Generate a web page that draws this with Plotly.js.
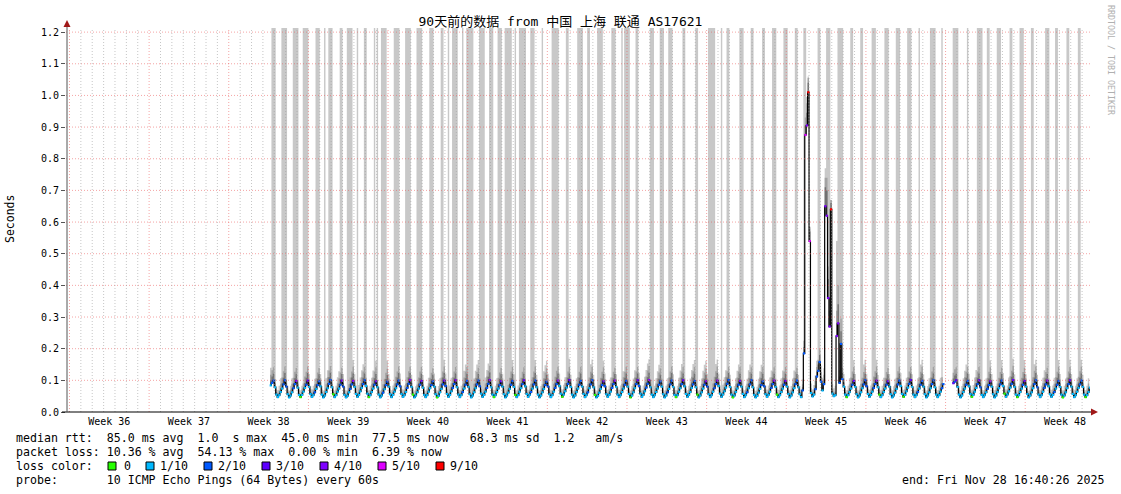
<!DOCTYPE html>
<html><head><meta charset="utf-8">
<script src="https://cdn.plot.ly/plotly-3.0.1.min.js"></script>
<style>html,body{margin:0;padding:0;background:#fff}#chart{width:1121px;height:494px}</style>
</head><body><div id="chart"></div>
<script>
// ---------- time frame ----------
const rangeStart = Date.UTC(2025, 7, 30, 16, 40, 26);
const rangeEnd   = Date.UTC(2025, 10, 28, 16, 40, 26);
const seriesStart = Date.UTC(2025, 8, 17, 0, 0, 0);   // first row = Sep 17 00:00, 8 samples per day
const stepHours = 3;

const chartTitle = '90天前的数据 from 中国 上海 联通 AS17621';
const weekLabels = ['Week 36','Week 37','Week 38','Week 39','Week 40','Week 41','Week 42','Week 43','Week 44','Week 45','Week 46','Week 47','Week 48'];
const yTickValues = [0,0.1,0.2,0.3,0.4,0.5,0.6,0.7,0.8,0.9,1.0,1.1,1.2];

// ---------- median rtt (ms), one row per day: 00,03,06,09,12,15,18,21h ----------
const medianMs = [
null,null,null,null,null,84,92,99,
78,55,47,53,63,74,87,100,
80,56,46,52,62,75,88,98,
77,54,47,54,64,76,86,99,
79,57,48,53,62,73,85,97,
81,55,46,52,63,75,89,101,
78,56,47,53,64,74,86,99,
80,54,46,51,62,73,87,98,
79,57,48,54,65,76,88,100,
82,58,47,53,63,74,86,97,
78,55,46,52,61,72,85,96,
80,56,47,54,64,75,87,99,
81,57,48,53,63,76,89,101,
79,55,46,52,62,74,86,98,
77,54,47,53,64,75,85,97,
80,56,46,51,62,73,87,99,
82,57,48,54,65,76,88,100,
78,55,47,53,63,74,86,98,
79,56,46,52,62,75,87,99,
81,58,48,54,64,76,89,101,
78,55,47,53,63,74,85,97,
80,56,46,52,61,73,86,98,
79,54,47,53,64,75,88,100,
81,57,48,54,63,74,87,99,
78,55,46,52,62,73,85,96,
80,56,47,53,64,76,88,99,
82,58,48,55,65,77,89,101,
79,55,46,52,63,74,86,98,
80,57,47,53,62,75,87,100,
78,54,46,51,61,73,85,97,
81,56,48,54,64,76,88,99,
79,55,47,53,63,74,86,98,
80,57,46,52,62,75,88,100,
82,58,48,54,65,77,89,101,
78,55,47,53,63,74,86,97,
80,56,46,52,62,73,87,99,
79,54,47,53,64,75,88,100,
81,57,48,54,63,76,87,98,
78,55,46,52,62,74,86,97,
80,56,47,53,64,75,88,99,
82,58,48,55,65,77,89,101,
79,55,46,52,63,74,86,98,
80,57,47,53,62,75,87,100,
78,54,46,51,61,73,85,97,
81,56,48,54,64,76,88,99,
79,55,47,53,63,74,86,98,
80,57,46,52,62,75,88,99,
78,56,47,68,185,875,905,1010,
540,60,49,55,72,112,130,158,
96,68,88,650,620,360,270,640,
58,50,53,240,280,92,215,104,
80,55,47,53,63,74,86,98,
79,56,46,52,62,75,87,100,
81,57,48,54,64,76,88,99,
78,55,47,53,63,74,86,97,
80,56,46,52,61,73,87,99,
82,57,48,54,65,77,89,101,
79,55,47,53,63,74,86,98,
80,56,46,52,62,75,88,100,
78,55,47,53,64,75,88,null,
null,null,null,null,null,91,96,100,
79,55,46,52,63,74,86,98,
81,57,48,54,64,76,88,100,
78,54,47,53,62,73,85,97,
80,56,46,52,63,75,87,99,
82,58,48,55,65,77,89,101,
79,55,47,53,63,74,86,98,
80,57,46,52,62,75,88,100,
78,55,47,53,64,76,87,99,
81,56,48,54,63,74,86,98,
79,55,46,52,62,75,88,100,
80,57,47,53,64,76,87,99,
79,55,47,53,63,77,null,null
];

// ---------- lost pings out of 10 ----------
const lossCount = [
null,null,null,null,null,1,2,2,
1,1,1,1,1,1,2,2,
2,1,1,1,1,2,2,4,
1,1,0,1,1,1,2,3,
1,1,1,1,2,1,2,2,
1,1,1,1,1,1,2,2,
1,0,1,1,1,1,2,3,
2,1,1,1,1,2,2,4,
1,1,1,1,1,1,2,2,
1,1,0,1,1,1,2,3,
1,1,1,1,2,1,2,2,
1,1,1,1,1,1,2,2,
2,1,1,1,1,2,2,4,
1,0,1,1,1,1,2,3,
1,1,1,1,1,1,2,2,
1,1,0,1,1,1,2,3,
2,1,1,1,1,2,2,4,
1,1,1,1,2,1,2,2,
1,1,1,1,1,1,2,2,
2,1,1,1,1,2,2,4,
1,1,0,1,1,1,2,3,
1,1,1,1,1,1,2,2,
1,0,1,1,1,1,2,3,
1,1,1,1,2,1,2,2,
1,1,1,1,1,1,2,2,
2,1,1,1,1,2,2,4,
1,1,0,1,1,1,2,3,
1,1,1,1,1,1,2,2,
1,1,1,1,2,1,2,2,
1,0,1,1,1,1,2,3,
2,1,1,1,1,2,2,4,
1,1,1,1,1,1,2,2,
1,1,0,1,1,1,2,3,
2,1,1,1,1,2,2,4,
1,1,1,1,1,1,2,2,
1,1,1,1,2,1,2,2,
1,1,0,1,1,1,2,3,
1,1,1,1,1,1,2,2,
1,0,1,1,1,1,2,3,
2,1,1,1,1,2,2,4,
1,1,1,1,1,1,2,2,
1,1,0,1,1,1,2,3,
1,1,1,1,2,1,2,2,
1,1,1,1,1,1,2,2,
2,1,1,1,1,2,2,4,
1,0,1,1,1,1,2,3,
1,1,1,1,1,1,2,2,
1,1,1,2,2,5,4,9,
5,1,1,1,2,2,2,2,
2,1,2,4,4,4,4,9,
1,1,1,4,4,2,2,2,
1,1,0,1,1,1,2,3,
1,1,1,1,1,1,2,2,
2,1,1,1,1,2,2,4,
1,0,1,1,1,1,2,3,
1,1,1,1,1,1,2,2,
1,1,0,1,1,1,2,3,
1,1,1,1,2,1,2,2,
1,1,1,1,1,1,2,2,
1,1,1,1,1,2,2,null,
null,null,null,null,null,3,2,3,
1,1,1,1,1,1,2,2,
1,1,0,1,1,1,2,3,
2,1,1,1,1,2,2,4,
1,1,1,1,1,1,2,2,
1,0,1,1,1,1,2,3,
1,1,0,1,1,1,2,3,
1,1,1,1,1,1,2,2,
2,1,1,1,1,2,2,4,
1,1,1,1,2,1,2,2,
1,1,0,1,1,1,2,3,
1,1,1,1,1,1,2,2,
1,1,0,1,1,1,null,null
];

// ---------- smoke: ping spread above the median (ms) ----------
const spreadP70 = [
null,null,null,null,null,16,20,22,
13,8,5,7,11,17,21,23,
11,7,6,8,13,15,19,21,
12,6,5,9,12,16,22,24,
12,7,5,8,12,16,20,22,
13,8,5,7,11,17,21,23,
11,7,6,8,13,15,19,21,
12,6,5,9,12,16,22,24,
12,7,5,8,12,16,20,22,
13,8,5,7,11,17,21,23,
11,7,6,8,13,15,19,21,
12,6,5,9,12,16,22,24,
12,7,5,8,12,16,20,22,
13,8,5,7,11,17,21,23,
11,7,6,8,13,15,19,21,
12,6,5,9,12,16,22,24,
12,7,5,8,12,16,20,22,
13,8,5,7,11,17,21,23,
11,7,6,8,13,15,19,21,
12,6,5,9,12,16,22,24,
12,7,5,8,12,16,20,22,
13,8,5,7,11,17,21,23,
11,7,6,8,13,15,19,21,
12,6,5,9,12,16,22,24,
12,7,5,8,12,16,20,22,
13,8,5,7,11,17,21,23,
11,7,6,8,13,15,19,21,
12,6,5,9,12,16,22,24,
12,7,5,8,12,16,20,22,
13,8,5,7,11,17,21,23,
11,7,6,8,13,15,19,21,
12,6,5,9,12,16,22,24,
12,7,5,8,12,16,20,22,
13,8,5,7,11,17,21,23,
11,7,6,8,13,15,19,21,
12,6,5,9,12,16,22,24,
12,7,5,8,12,16,20,22,
13,8,5,7,11,17,21,23,
11,7,6,8,13,15,19,21,
12,6,5,9,12,16,22,24,
12,7,5,8,12,16,20,22,
13,8,5,7,11,17,21,23,
11,7,6,8,13,15,19,21,
12,6,5,9,12,16,22,24,
12,7,5,8,12,16,20,22,
13,8,5,7,11,17,21,23,
11,7,6,8,13,15,19,21,
12,7,5,10,20,30,40,30,
30,7,5,8,12,16,20,22,
15,10,15,60,80,60,50,20,
8,6,6,40,60,20,40,20,
13,8,5,7,11,17,21,23,
11,7,6,8,13,15,19,21,
12,6,5,9,12,16,22,24,
12,7,5,8,12,16,20,22,
13,8,5,7,11,17,21,23,
11,7,6,8,13,15,19,21,
12,6,5,9,12,16,22,24,
12,7,5,8,12,16,20,22,
13,8,5,7,11,17,21,null,
null,null,null,null,null,15,19,21,
12,6,5,9,12,16,22,24,
12,7,5,8,12,16,20,22,
13,8,5,7,11,17,21,23,
11,7,6,8,13,15,19,21,
12,6,5,9,12,16,22,24,
12,7,5,8,12,16,20,22,
13,8,5,7,11,17,21,23,
11,7,6,8,13,15,19,21,
12,6,5,9,12,16,22,24,
12,7,5,8,12,16,20,22,
13,8,5,7,11,17,21,23,
11,7,6,8,13,15,null,null
];

const spreadP90 = [
null,null,null,null,null,34,40,42,
26,16,12,16,25,35,42,44,
23,14,11,18,27,33,39,41,
25,15,10,17,26,36,41,45,
24,15,11,17,26,34,40,42,
26,16,12,16,25,35,42,44,
23,14,11,18,27,33,39,41,
25,15,10,17,26,36,41,45,
24,15,11,17,26,34,40,42,
26,16,12,16,25,35,42,44,
23,14,11,18,27,33,39,41,
25,15,10,17,26,36,41,45,
24,15,11,17,26,34,40,42,
26,16,12,16,25,35,42,44,
23,14,11,18,27,33,39,41,
25,15,10,17,26,36,41,45,
24,15,11,17,26,34,40,42,
26,16,12,16,25,35,42,44,
23,14,11,18,27,33,39,41,
25,15,10,17,26,36,41,45,
24,15,11,17,26,34,40,42,
26,16,12,16,25,35,42,44,
23,14,11,18,27,33,39,41,
25,15,10,17,26,36,41,45,
24,15,11,17,26,34,40,42,
26,16,12,16,25,35,42,44,
23,14,11,18,27,33,39,41,
25,15,10,17,26,36,41,45,
24,15,11,17,26,34,40,42,
26,16,12,16,25,35,42,44,
23,14,11,18,27,33,39,41,
25,15,10,17,26,36,41,45,
24,15,11,17,26,34,40,42,
26,16,12,16,25,35,42,44,
23,14,11,18,27,33,39,41,
25,15,10,17,26,36,41,45,
24,15,11,17,26,34,40,42,
26,16,12,16,25,35,42,44,
23,14,11,18,27,33,39,41,
25,15,10,17,26,36,41,45,
24,15,11,17,26,34,40,42,
26,16,12,16,25,35,42,44,
23,14,11,18,27,33,39,41,
25,15,10,17,26,36,41,45,
24,15,11,17,26,34,40,42,
26,16,12,16,25,35,42,44,
23,14,11,18,27,33,39,41,
24,15,11,20,40,55,70,45,
45,15,11,17,26,30,35,40,
30,20,30,90,120,100,90,30,
15,12,12,80,120,40,80,35,
26,16,12,16,25,35,42,44,
23,14,11,18,27,33,39,41,
25,15,10,17,26,36,41,45,
24,15,11,17,26,34,40,42,
26,16,12,16,25,35,42,44,
23,14,11,18,27,33,39,41,
25,15,10,17,26,36,41,45,
24,15,11,17,26,34,40,42,
26,16,12,16,25,35,42,null,
null,null,null,null,null,33,39,41,
25,15,10,17,26,36,41,45,
24,15,11,17,26,34,40,42,
26,16,12,16,25,35,42,44,
23,14,11,18,27,33,39,41,
25,15,10,17,26,36,41,45,
24,15,11,17,26,34,40,42,
26,16,12,16,25,35,42,44,
23,14,11,18,27,33,39,41,
25,15,10,17,26,36,41,45,
24,15,11,17,26,34,40,42,
26,16,12,16,25,35,42,44,
23,14,11,18,27,33,null,null
];

// slowest ping above the median (ms); 1300 = off the top of the graph
const spreadMax = [
null,null,null,null,null,56,1300,1300,
1300,26,22,30,44,1300,1300,1300,
1300,27,21,31,45,1300,1300,1300,
1300,25,22,29,1300,1300,1300,1300,
41,26,23,30,43,1300,1300,1300,
39,27,22,1300,44,57,1300,1300,
1300,26,21,30,46,55,1300,1300,
40,25,22,1300,1300,1300,1300,66,
42,27,1300,31,44,56,63,1300,
1300,26,22,30,45,57,1300,65,
1300,25,21,1300,1300,1300,1300,67,
40,26,22,30,1300,1300,1300,1300,
41,27,23,31,1300,1300,1300,1300,
39,25,22,29,1300,1300,1300,1300,
40,26,21,30,44,1300,1300,1300,
42,26,22,31,45,1300,1300,66,
40,27,1300,30,43,1300,1300,1300,
1300,25,22,30,1300,56,64,1300,
1300,1300,1300,1300,44,55,63,65,
1300,1300,1300,1300,45,57,64,1300,
1300,1300,22,30,44,1300,1300,1300,
41,26,1300,1300,1300,1300,1300,66,
40,1300,22,31,1300,1300,1300,1300,
1300,25,21,30,1300,1300,1300,65,
40,26,22,30,1300,56,63,66,
41,27,22,1300,1300,1300,1300,1300,
40,26,23,31,45,1300,1300,67,
39,25,22,30,44,1300,1300,1300,
1300,26,21,29,1300,1300,64,66,
40,27,22,1300,1300,1300,1300,65,
41,26,22,30,45,1300,1300,1300,
40,25,23,31,1300,55,1300,1300,
1300,1300,22,30,44,57,1300,1300,
42,26,21,30,46,56,64,66,
1300,1300,1300,30,44,55,63,1300,
1300,1300,22,31,45,1300,1300,1300,
40,26,22,30,44,56,64,1300,
1300,25,21,29,43,57,65,66,
1300,1300,22,30,44,56,63,65,
41,1300,1300,1300,1300,1300,64,67,
40,26,1300,31,45,55,1300,1300,
39,25,22,30,44,56,64,1300,
1300,1300,22,30,43,57,63,1300,
1300,26,21,29,44,56,64,1300,
1300,27,22,30,45,55,1300,1300,
1300,25,23,31,44,57,1300,1300,
1300,26,22,30,44,56,1300,1300,
40,26,22,35,1300,1300,90,50,
40,30,22,30,44,50,1300,1300,
50,40,50,120,1300,1300,1300,30,
30,25,30,300,1300,1300,1300,1300,
40,26,22,30,44,1300,1300,66,
41,25,21,31,1300,1300,63,65,
40,26,22,30,1300,1300,1300,66,
39,27,22,30,45,1300,1300,1300,
40,26,23,29,44,1300,1300,1300,
41,25,22,30,43,1300,1300,1300,
40,26,21,31,44,1300,64,67,
39,26,22,30,45,1300,1300,1300,
1300,25,22,30,44,1300,1300,null,
null,null,null,null,null,1300,1300,1300,
1300,26,22,30,44,56,64,1300,
40,27,21,31,45,57,1300,1300,
1300,1300,22,30,44,1300,1300,66,
40,26,23,30,1300,1300,1300,65,
41,25,22,29,44,1300,1300,67,
40,26,22,30,1300,1300,1300,66,
39,26,21,31,1300,1300,63,65,
40,25,22,30,44,56,1300,1300,
1300,26,22,30,45,1300,1300,66,
41,27,22,31,44,1300,1300,65,
40,26,23,30,43,1300,1300,66,
39,25,22,30,44,1300,null,null
];

// ---------- legend / statistics texts ----------
const lossLegend = [
  {label: '0',    color: '#26ff00'},
  {label: '1/10', color: '#00b8ff'},
  {label: '2/10', color: '#0059ff'},
  {label: '3/10', color: '#5e00ff'},
  {label: '4/10', color: '#7e00ff'},
  {label: '5/10', color: '#dd00ff'},
  {label: '9/10', color: '#ff0000'}
];
const statsLines = [
  'median rtt:  85.0 ms avg  1.0  s max  45.0 ms min  77.5 ms now   68.3 ms sd  1.2   am/s',
  'packet loss: 10.36 % avg  54.13 % max  0.00 % min  6.39 % now',
  'loss color:',
  'probe:       10 ICMP Echo Pings (64 Bytes) every 60s'
];
const endText = 'end: Fri Nov 28 16:40:26 2025';
const watermark = 'RRDTOOL / TOBI OETIKER';
const yTitle = 'Seconds';

// ---------- build ----------
const HOUR = 3600e3, DAY = 24 * HOUR;
const stepMs = stepHours * HOUR;
const N = medianMs.length;
const xs = medianMs.map((_, i) => seriesStart + i * stepMs);
const toS = v => (v == null ? null : v / 1000);

function lossColor(n) {
  if (n == null) return 'rgba(0,0,0,0)';
  if (n <= 0) return lossLegend[0].color;
  if (n <= 5) return lossLegend[n].color;
  return lossLegend[6].color;
}

// contiguous runs of data (smoke is split at gaps)
const runs = [];
let cur = null;
for (let i = 0; i < N; i++) {
  if (medianMs[i] == null) { cur = null; continue; }
  if (!cur) { cur = []; runs.push(cur); }
  cur.push(i);
}

const traces = [];
const bands = [
  {spread: spreadMax, color: '#c8c8c8'},
  {spread: spreadP90, color: '#a2a2a2'},
  {spread: spreadP70, color: '#727272'}
];
runs.forEach(run => {
  const rx = run.map(i => xs[i]);
  const rm = run.map(i => toS(medianMs[i]));
  bands.forEach(b => {
    traces.push({x: rx, y: rm, type: 'scatter', mode: 'lines', line: {width: 0, shape: 'hv'},
      hoverinfo: 'skip', showlegend: false});
    traces.push({x: rx, y: run.map(i => toS(medianMs[i] + b.spread[i])), type: 'scatter', mode: 'lines',
      line: {width: 0, shape: 'hv'}, fill: 'tonexty', fillcolor: b.color, hoverinfo: 'skip', showlegend: false});
  });
});
// median line
traces.push({x: xs, y: medianMs.map(toS), type: 'scatter', mode: 'lines',
  line: {color: '#000000', width: 1.2, shape: 'hv'}, connectgaps: false, hoverinfo: 'skip', showlegend: false});
// loss-colored median steps
traces.push({x: xs.map(t => t + stepMs / 2), y: medianMs.map(toS), type: 'scatter', mode: 'markers',
  marker: {symbol: 'square', size: 2.2, color: lossCount.map(lossColor), line: {width: 0}},
  hoverinfo: 'skip', showlegend: false});

// ---------- layout helpers (pixel -> paper) ----------
const L = 66, T = 28, W = 1024, H = 384;
const px = x => (x - L) / W;
const py = y => (412 - y) / H;
const mono = "'DejaVu Sans Mono', monospace";
const nb = s => s.replace(/ /g, '\u00a0');

const majorGrid = {color: 'rgba(235,90,90,0.55)', width: 1, dash: '1px,2px'};
const minorGrid = {color: 'rgba(160,160,160,0.6)', width: 1, dash: '1px,2px'};

const shapes = [];
// horizontal major grid
yTickValues.slice(1).forEach(v => shapes.push({type: 'line', xref: 'paper', yref: 'y', x0: 0, x1: px(1092), y0: v, y1: v,
  line: majorGrid, layer: 'above'}));
// vertical grid: daily minor, weekly (Sunday) major
for (let t = Date.UTC(2025, 7, 31); t < rangeEnd; t += DAY) {
  const sunday = new Date(t).getUTCDay() === 0;
  shapes.push({type: 'line', xref: 'x', yref: 'paper', x0: t, x1: t, y0: 0, y1: 1,
    line: sunday ? majorGrid : minorGrid, layer: 'above'});
}
// axis lines and arrows
shapes.push({type: 'line', xref: 'paper', yref: 'paper', x0: px(62), x1: px(1094), y0: 0, y1: 0, line: {color: '#000', width: 1}, layer: 'above'});
shapes.push({type: 'line', xref: 'paper', yref: 'paper', x0: px(67), x1: px(67), y0: 0, y1: py(24), line: {color: '#555', width: 1}, layer: 'above'});
shapes.push({type: 'path', xref: 'paper', yref: 'paper', layer: 'above',
  path: `M ${px(67)},${py(20)} L ${px(63.5)},${py(27)} L ${px(70.5)},${py(27)} Z`, fillcolor: '#a01818', line: {width: 0}});
shapes.push({type: 'path', xref: 'paper', yref: 'paper', layer: 'above',
  path: `M ${px(1098)},${py(412)} L ${px(1091)},${py(408.5)} L ${px(1091)},${py(415.5)} Z`, fillcolor: '#a01818', line: {width: 0}});

const annotations = [];
const txt = (s, x, y, opts = {}) => annotations.push(Object.assign({text: nb(s), xref: 'paper', yref: 'paper',
  x: px(x), y: py(y), xanchor: 'left', yanchor: 'middle', showarrow: false, borderpad: 0,
  font: {family: mono, size: 11.6, color: '#000'}}, opts));

txt(statsLines[0], 15, 438);
txt(statsLines[1], 15, 452);
txt(statsLines[2], 15, 466);
txt(statsLines[3], 15, 480);
txt(endText, 1105, 480, {xanchor: 'right'});
lossLegend.forEach((item, i) => {
  const bx = i === 0 ? 108 : 146 + (i - 1) * 58;
  shapes.push({type: 'rect', xref: 'paper', yref: 'paper', x0: px(bx), x1: px(bx + 8), y0: py(470), y1: py(462),
    fillcolor: item.color, line: {color: '#000', width: 1}});
  txt(item.label, bx + (i === 0 ? 15 : 13), 466);
});
txt(yTitle, 10, 219, {textangle: -90, xanchor: 'center', font: {family: mono, size: 11.5, color: '#000'}});
txt(watermark, 1111, 60, {textangle: 90, xanchor: 'center', font: {family: mono, size: 8.3, color: '#b0b0b0'}});

const weekTicks = weekLabels.map((_, k) => Date.UTC(2025, 8, 3, 12) + k * 7 * DAY);

const layout = {
  width: 1121, height: 494,
  margin: {l: L, r: 1121 - L - W, t: T, b: 494 - T - H, pad: 0},
  paper_bgcolor: '#ffffff', plot_bgcolor: '#ffffff',
  showlegend: false,
  title: {text: chartTitle, x: 0.5, xref: 'container', xanchor: 'center', y: 1 - 21 / 494, yref: 'container', yanchor: 'middle',
    font: {family: "'DejaVu Sans Mono', 'Noto Sans CJK SC', monospace", size: 13, color: '#000'}},
  xaxis: {type: 'date', range: [rangeStart, rangeEnd], tickmode: 'array', tickvals: weekTicks, ticktext: weekLabels,
    ticks: '', ticklabelstandoff: 2, showgrid: false, zeroline: false, showline: false, fixedrange: true,
    tickfont: {family: mono, size: 10, color: '#000'}},
  yaxis: {range: [0, 1.213], tickmode: 'array', tickvals: yTickValues, ticktext: yTickValues.map(v => v.toFixed(1)),
    ticks: 'outside', ticklen: 4, tickcolor: '#555', showgrid: false, zeroline: false, showline: false, fixedrange: true,
    tickfont: {family: mono, size: 10, color: '#000'}},
  shapes, annotations
};

Plotly.newPlot('chart', traces, layout, {displayModeBar: false, staticPlot: true});
</script>
</body></html>
